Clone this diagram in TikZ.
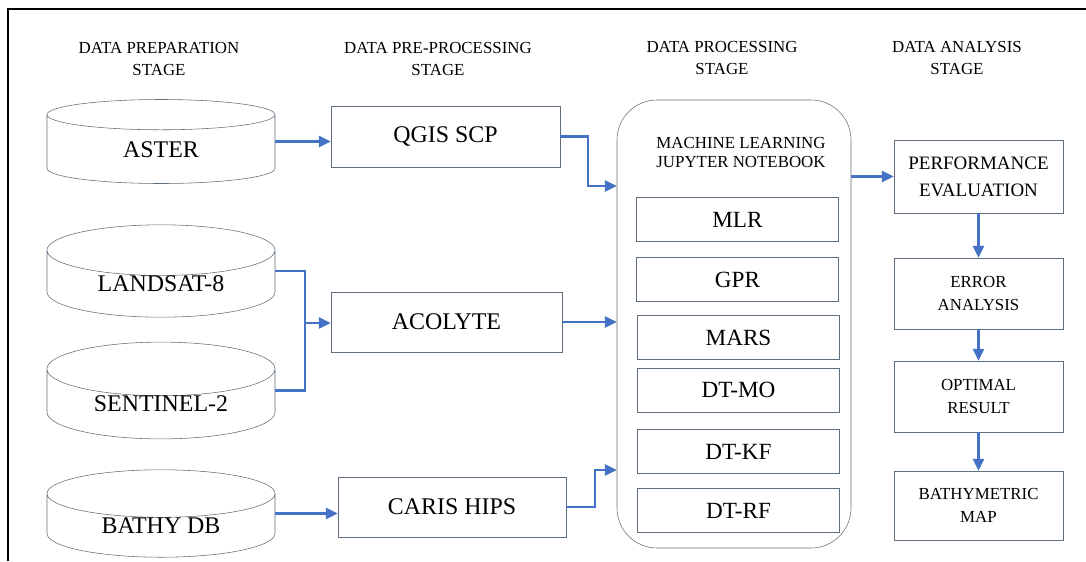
\documentclass[tikz,border=0pt]{standalone}
\usepackage{fontspec}
\setmainfont{Liberation Serif}
\usetikzlibrary{shapes.geometric,arrows.meta}

\definecolor{boxline}{RGB}{95,110,125}
\definecolor{flowblue}{RGB}{68,114,196}
\newcommand{\pxu}{0.025cm}

\begin{document}
\begin{tikzpicture}[x=0.025cm,y=-0.025cm,
	stagehead/.style={align=center,font=\fontsize{12}{15.5}\selectfont},
	dbcyl/.style={cylinder,shape border rotate=90,aspect=0.4,draw=boxline,thin,
		minimum width=228*\pxu,inner sep=0pt,font=\fontsize{17}{20}\selectfont},
	procbox/.style={draw=boxline,thin,inner sep=0pt,font=\fontsize{17}{20}\selectfont},
	algbox/.style={procbox,minimum width=202*\pxu,minimum height=44*\pxu,font=\fontsize{16.5}{20}\selectfont},
	anabox/.style={draw=boxline,thin,inner sep=0pt,align=center,minimum width=169*\pxu,
		font=\fontsize{12}{16.5}\selectfont},
	flowline/.style={draw=flowblue,line width=1.6pt},
	flow/.style={flowline,-{Triangle[length=8.5pt,width=8pt]}}]

	\useasboundingbox (0,0) rectangle (1086,561);
	\draw[line width=1.6pt](8.3,561)--(8.3,9.3)--(1086,9.3);

	% stage titles
	\node[stagehead] (h1) at(159,59) {DATA PREPARATION\\STAGE};
	\node[stagehead] (h2) at(438,59) {DATA PRE-PROCESSING\\STAGE};
	\node[stagehead] (h3) at(722,58) {DATA PROCESSING\\STAGE};
	\node[stagehead] (h4) at(957,58) {DATA ANALYSIS\\STAGE};

	% data sources
	\node[dbcyl,minimum height=84*\pxu,anchor=shape center] (aster) at(161,141.5) {ASTER};
	\node[dbcyl,minimum height=87*\pxu,anchor=shape center] (landsat) at(161,271) {LANDSAT-8};
	\node[dbcyl,minimum height=84*\pxu,anchor=shape center] (sentinel) at(161,390.5) {SENTINEL-2};
	\node[dbcyl,minimum height=84*\pxu,anchor=shape center] (bathydb) at(161,513.5) {BATHY DB};

	% pre-processing
	\node[procbox,minimum width=229*\pxu,minimum height=61*\pxu] (qgis) at(445.5,136.5) {QGIS SCP};
	\node[procbox,minimum width=231*\pxu,minimum height=60*\pxu] (acolyte) at(446.5,322) {ACOLYTE};
	\node[procbox,minimum width=228*\pxu,minimum height=60*\pxu] (caris) at(452,507) {CARIS HIPS};

	% machine learning block
	\node[draw=boxline,thin,rounded corners=1cm,minimum width=234*\pxu,minimum height=448*\pxu] (ml) at(734,324) {};
	\node[align=center,font=\fontsize{12}{13.5}\selectfont] (mlhead) at(741,152.5) {MACHINE LEARNING\\JUPYTER NOTEBOOK};
	\node[algbox] (mlr) at(737.5,219.5) {MLR};
	\node[algbox] (gpr) at(737.5,279.5) {GPR};
	\node[algbox] (mars) at(738.5,337.5) {MARS};
	\node[algbox] (dtmo) at(738.5,390) {DT-MO};
	\node[algbox] (dtkf) at(738.5,451.5) {DT-KF};
	\node[algbox] (dtrf) at(738.5,510.5) {DT-RF};

	% analysis
	\node[anabox,minimum height=73*\pxu,font=\fontsize{13.5}{19}\selectfont] (perf) at(978.5,176.5) {PERFORMANCE\\EVALUATION};
	\node[anabox,minimum height=71*\pxu] (err) at(978.5,293.5) {ERROR\\ANALYSIS};
	\node[anabox,minimum height=71*\pxu] (opt) at(978.5,396.5) {OPTIMAL\\RESULT};
	\node[anabox,minimum height=69*\pxu] (bmap) at(978.5,505.5) {BATHYMETRIC\\MAP};

	% connectors
	\coordinate (jn) at(305,323);
	\coordinate (qb) at(588,186);
	\coordinate (cb) at(595,470);

	\draw[flow](aster.shape center-|aster.east)--(aster.shape center-|qgis.west);
	\draw[flowline](landsat.shape center-|landsat.east)-|(jn|-sentinel.shape center)--(sentinel.shape center-|sentinel.east);
	\draw[flow](jn)--(jn-|acolyte.west);
	\draw[flow](bathydb.shape center-|bathydb.east)--(bathydb.shape center-|caris.west);

	\draw[flow](qgis.east)-|(qb)--(qb-|ml.west);
	\draw[flow](acolyte.east)--(acolyte.east-|ml.west);
	\draw[flow](caris.east)-|(cb)--(cb-|ml.west);

	\draw[flow](perf.west-|ml.east)--(perf.west);
	\draw[flow](perf.south)--(err.north);
	\draw[flow](err.south)--(opt.north);
	\draw[flow](opt.south)--(bmap.north);
\end{tikzpicture}
\end{document}
